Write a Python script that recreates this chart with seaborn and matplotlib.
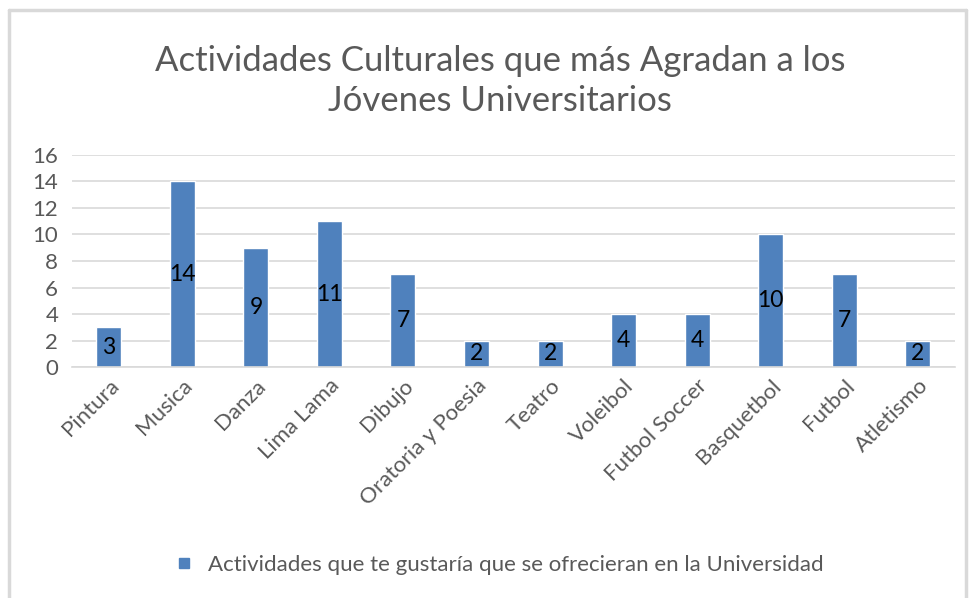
import matplotlib.pyplot as plt
import matplotlib.lines as mlines
import seaborn as sns
import pandas as pd

actividades = ["Pintura", "Musica", "Danza", "Lima Lama", "Dibujo",
               "Oratoria y Poesia", "Teatro", "Voleibol", "Futbol Soccer",
               "Basquetbol", "Futbol", "Atletismo"]
votos = [3, 14, 9, 11, 7, 2, 2, 4, 4, 10, 7, 2]
serie = "Actividades que te gustaría que se ofrecieran en la Universidad"
titulo = "Actividades Culturales que más Agradan a los\nJóvenes Universitarios"

df = pd.DataFrame({"actividad": actividades, "votos": votos})

sns.set_style("white")
plt.rcParams["font.family"] = ["Lato", "DejaVu Sans"]

gris = "#595959"
azul = "#4F81BD"

fig = plt.figure(figsize=(9.8, 5.98), dpi=100)
ax = fig.add_axes([0.0735, 0.386, 0.9005, 0.355])

sns.barplot(data=df, x="actividad", y="votos", color=azul, width=0.34,
            saturation=1, edgecolor="white", linewidth=1, ax=ax, zorder=2)

# etiquetas de datos al centro de cada barra
for i, v in enumerate(votos):
    ax.text(i, v / 2, str(v), ha="center", va="center", fontsize=16.5,
            color="black", zorder=3)

ax.set_ylim(0, 16)
ax.set_xlim(-0.5, len(actividades) - 0.5)
ax.set_yticks(range(0, 17, 2))
ax.yaxis.grid(True, color="#d9d9d9", linewidth=1.2, zorder=0)
ax.set_axisbelow(True)
for s in ["top", "right", "left"]:
    ax.spines[s].set_visible(False)
ax.spines["bottom"].set_color("#d9d9d9")
ax.spines["bottom"].set_linewidth(1.2)

ax.set_xticks([i + 0.5 for i in range(-1, len(actividades))], minor=True)
ax.tick_params(axis="x", which="minor", length=8, color="#d9d9d9", width=1.2)
ax.tick_params(axis="x", which="major", length=0, pad=6)
ax.tick_params(axis="y", length=0, labelsize=16, labelcolor=gris, pad=10)
ax.set_xticks(range(len(actividades)))
ax.set_xticklabels(actividades, rotation=45, ha="right", rotation_mode="anchor",
                   fontsize=16, color=gris)
ax.set_xlabel("")
ax.set_ylabel("")

fig.text(0.51, 0.865, titulo, ha="center", va="center", fontsize=25,
         color=gris, linespacing=1.3)

handle = mlines.Line2D([], [], marker="s", linestyle="none", color=azul,
                       markersize=7)
fig.legend([handle], [serie], loc="center", bbox_to_anchor=(0.503, 0.055),
           frameon=False, fontsize=16, labelcolor=gris, handletextpad=0.1)

borde = dict(color="#d9d9d9", linewidth=2.5)
fig.add_artist(mlines.Line2D([0.009, 0.009], [0, 0.983], **borde))
fig.add_artist(mlines.Line2D([0.009, 0.986], [0.983, 0.983], **borde))
fig.add_artist(mlines.Line2D([0.986, 0.986], [0, 0.983], **borde))

plt.savefig("out.png", dpi=100)
